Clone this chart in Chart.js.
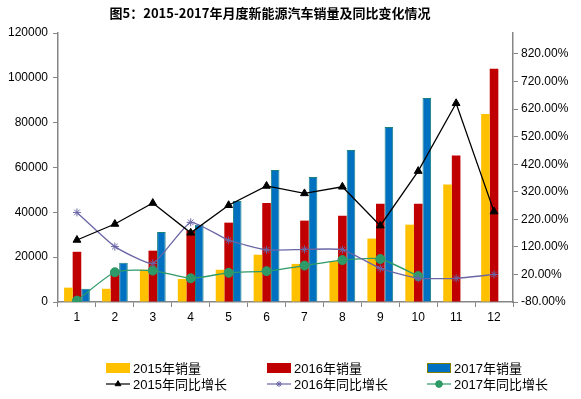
<!DOCTYPE html>
<html>
<head>
<meta charset="utf-8">
<script src="https://cdn.jsdelivr.net/npm/chart.js@4"></script>
<style>
  html, body { margin: 0; padding: 0; background: #fff; }
  #wrap { width: 581px; height: 399px; }
</style>
</head>
<body>
<div id="wrap"><canvas id="chart" width="581" height="399"></canvas></div>
<script>
const months = ['1', '2', '3', '4', '5', '6', '7', '8', '9', '10', '11', '12'];

const sales2015 = [6400, 5900, 14400, 10300, 14400, 21100, 17000, 18200, 28300, 34500, 52400, 83900];
const sales2016 = [22400, 13500, 22900, 31800, 35400, 44200, 36300, 38500, 43800, 43800, 65300, 104000];
const sales2017 = [5900, 17500, 31200, 34500, 45100, 58900, 55800, 67800, 78100, 91000];

const growth2015 = [145, 203, 279, 171, 271, 341, 314, 338, 197, 395, 641, 248];
const growth2016 = [245, 121, 60, 209, 144, 109, 111, 110, 42, 6, 6, 20];
const growth2017 = [-75, 28, 34, 6, 26, 32, 52, 72, 76, 14];

const leftTicks = [0, 20000, 40000, 60000, 80000, 100000, 120000];
const rightTicks = [-80, 20, 120, 220, 320, 420, 520, 620, 720, 820];

const titleText = '图5：2015-2017年月度新能源汽车销量及同比变化情况';
const tickFont = { family: "'Liberation Sans', 'Noto Sans CJK SC'", size: 12 };
const axisGray = '#868686';

// legend drawn as a 3 x 2 grid under the axis, like the spreadsheet original
const gridLegend = {
  id: 'gridLegend',
  afterDraw(chart) {
    const ctx = chart.ctx;
    const cols = [106, 267, 427];
    const rows = [368, 384];
    ctx.save();
    ctx.font = "13px 'Liberation Sans', 'Noto Sans CJK SC'";
    ctx.textBaseline = 'middle';
    chart.data.datasets.forEach((ds, i) => {
      const x = cols[i % 3];
      const y = rows[Math.floor(i / 3)];
      if (ds.type === 'line') {
        ctx.strokeStyle = ds.borderColor;
        ctx.lineWidth = 1.2;
        ctx.beginPath();
        ctx.moveTo(x, y);
        ctx.lineTo(x + 24, y);
        ctx.stroke();
        ctx.fillStyle = ds.pointBackgroundColor;
        ctx.strokeStyle = ds.pointBorderColor;
        ctx.lineWidth = 1;
        Chart.helpers.drawPoint(ctx, {
          pointStyle: ds.pointStyle,
          radius: ds.pointRadius * 0.75,
          borderWidth: 1,
          rotation: 0,
        }, x + 12, y);
      } else {
        ctx.fillStyle = ds.backgroundColor;
        ctx.fillRect(x, y - 5, 24, 10);
        if (ds.legendBorder) {
          ctx.strokeStyle = ds.legendBorder;
          ctx.lineWidth = 1;
          ctx.strokeRect(x + 0.5, y - 4.5, 23, 9);
        }
      }
      ctx.fillStyle = '#000';
      ctx.fillText(ds.label, x + 27, y + 1);
    });
    ctx.restore();
  },
};

const chartTitle = {
  id: 'chartTitle',
  afterDraw(chart) {
    const ctx = chart.ctx;
    ctx.save();
    ctx.font = "bold 13px 'Noto Sans CJK SC'";
    ctx.fillStyle = '#000';
    ctx.textAlign = 'center';
    ctx.textBaseline = 'middle';
    ctx.fillText(titleText, 270, 13);
    ctx.restore();
  },
};

const barSet = (label, data, color) => ({
  type: 'bar',
  label: label,
  data: data,
  backgroundColor: color,
  yAxisID: 'y',
  order: 2,
  categoryPercentage: 0.68,
  barPercentage: 1,
});

const lineSet = (label, data, color, style, radius, tension) => ({
  type: 'line',
  label: label,
  data: data,
  borderColor: color,
  backgroundColor: color,
  pointBackgroundColor: color,
  pointBorderColor: color,
  pointStyle: style,
  pointRadius: radius,
  pointBorderWidth: 1,
  borderWidth: 1.3,
  tension: tension,
  yAxisID: 'y1',
  order: 1,
});

const datasets = [
  barSet('2015年销量', sales2015, '#FFC000'),
  barSet('2016年销量', sales2016, '#C00000'),
  barSet('2017年销量', sales2017, '#0070C0'),
  lineSet('2015年同比增长', growth2015, '#000000', 'triangle', 4.5, 0),
  lineSet('2016年同比增长', growth2016, '#6A66A6', 'star', 4, 0.15),
  lineSet('2017年同比增长', growth2017, '#2E9A68', 'circle', 4.5, 0.2),
];
datasets[2].borderColor = '#1A8080';
datasets[2].borderWidth = { top: 1, left: 1, right: 1, bottom: 0 };
datasets[2].legendBorder = '#7F7F00';

new Chart(document.getElementById('chart'), {
  data: { labels: months, datasets: datasets },
  plugins: [gridLegend, chartTitle],
  options: {
    responsive: false,
    animation: false,
    layout: { padding: { top: 33, bottom: 73, left: 0, right: 0 } },
    plugins: {
      legend: { display: false },
      tooltip: { enabled: false },
    },
    scales: {
      x: {
        offset: true,
        grid: {
          offset: true,
          drawOnChartArea: false,
          tickLength: 5,
          color: axisGray,
        },
        border: { color: axisGray, width: 1.5 },
        ticks: { color: '#000', font: tickFont, padding: 3, maxRotation: 0 },
        afterFit(scale) { scale.height = 24; },
      },
      y: {
        position: 'left',
        min: 0,
        max: 120000,
        grid: { drawOnChartArea: false, tickLength: 5, color: axisGray },
        border: { color: axisGray, width: 1.5 },
        ticks: { color: '#000', font: tickFont, padding: 5, callback: (v) => String(v) },
        afterBuildTicks(scale) { scale.ticks = leftTicks.map((v) => ({ value: v })); },
        afterFit(scale) { scale.width = 58; },
      },
      y1: {
        position: 'right',
        min: -80,
        max: 896,
        grid: { drawOnChartArea: false, tickLength: 5, color: axisGray },
        border: { color: axisGray, width: 1.5 },
        ticks: {
          color: '#000',
          font: tickFont,
          padding: 3,
          callback: (v) => v.toFixed(2) + '%',
        },
        afterBuildTicks(scale) { scale.ticks = rightTicks.map((v) => ({ value: v })); },
        afterFit(scale) { scale.width = 68; },
      },
    },
  },
});
</script>
</body>
</html>
